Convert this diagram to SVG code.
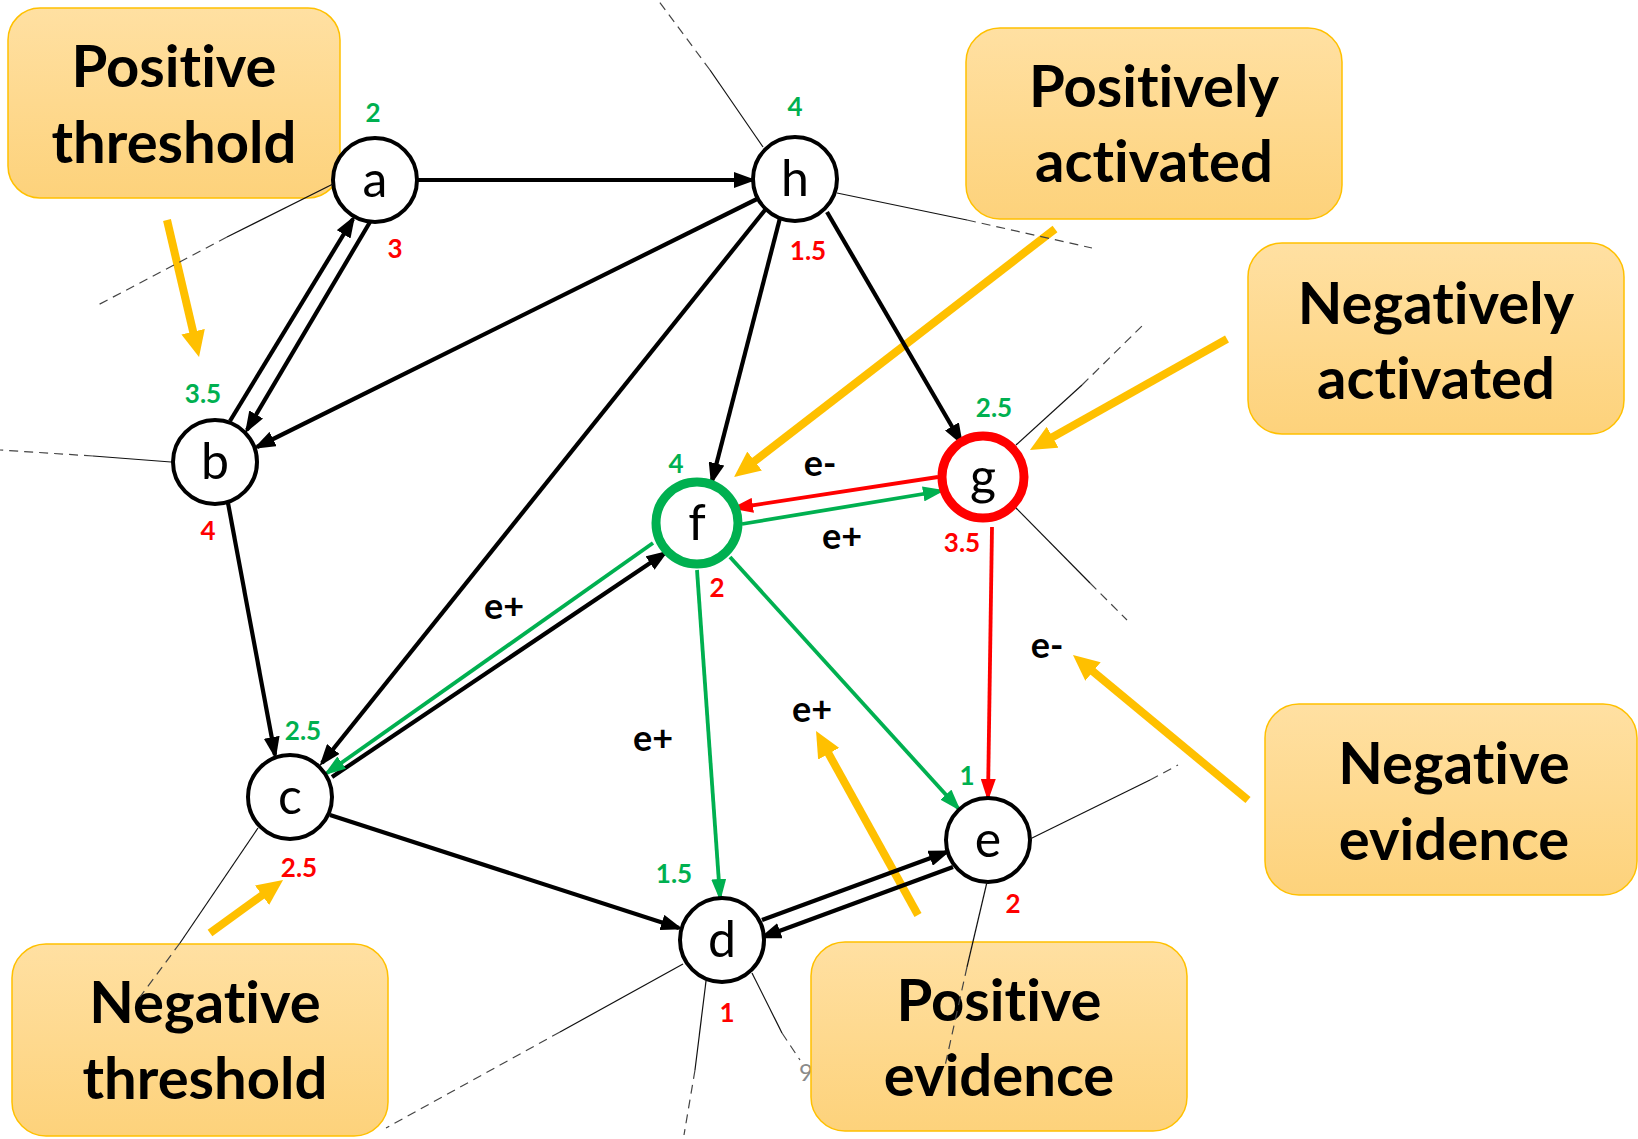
<svg xmlns="http://www.w3.org/2000/svg" width="1638" height="1139" viewBox="0 0 1638 1139">
  <defs>
    <linearGradient id="boxFill" x1="0" y1="0" x2="0" y2="1">
      <stop offset="0" stop-color="#FFE0A2"/>
      <stop offset="1" stop-color="#FDD27B"/>
    </linearGradient>
    <marker id="arrBlack" markerUnits="userSpaceOnUse" markerWidth="22" markerHeight="16" refX="18" refY="8" orient="auto">
      <path d="M0,0 L22,8 L0,16 z" fill="#000"/>
    </marker>
    <marker id="arrGreen" markerUnits="userSpaceOnUse" markerWidth="22" markerHeight="15" refX="18" refY="7.5" orient="auto">
      <path d="M0,0 L22,7.5 L0,15 z" fill="#00B050"/>
    </marker>
    <marker id="arrRed" markerUnits="userSpaceOnUse" markerWidth="22" markerHeight="15" refX="18" refY="7.5" orient="auto">
      <path d="M0,0 L22,7.5 L0,15 z" fill="#FF0000"/>
    </marker>
    <marker id="arrYellow" markerUnits="userSpaceOnUse" markerWidth="26" markerHeight="24" refX="10" refY="12" orient="auto">
      <path d="M0,0 L26,12 L0,24 z" fill="#FFC000"/>
    </marker>
  </defs>
  <style>
    text { font-variant-ligatures: none; }
    .box { fill: url(#boxFill); stroke: #FFC000; stroke-width: 1.5; }
    .boxText { font-family: Lato, "Open Sans", sans-serif; font-weight: bold; font-size: 58px; fill: #000; text-anchor: middle; }
    .pointer { stroke: #FFC000; stroke-width: 8; fill: none; marker-end: url(#arrYellow); }
    .edge { stroke: #000; stroke-width: 4.2; fill: none; marker-end: url(#arrBlack); }
    .edgeG { stroke: #00B050; stroke-width: 3.8; fill: none; marker-end: url(#arrGreen); }
    .edgeR { stroke: #FF0000; stroke-width: 3.8; fill: none; marker-end: url(#arrRed); }
    .node circle { fill: #fff; stroke: #000; stroke-width: 4; }
    .node .letter { font-family: Lato, "Open Sans", sans-serif; font-size: 50px; fill: #000; text-anchor: middle; }
    #node-f circle { stroke: #00B050; stroke-width: 9; }
    #node-g circle { stroke: #FF0000; stroke-width: 9; }
    .node .pos { font-family: Lato, "Open Sans", sans-serif; font-weight: bold; font-size: 26px; fill: #00B050; text-anchor: middle; }
    .node .neg { font-family: Lato, "Open Sans", sans-serif; font-weight: bold; font-size: 26px; fill: #FF0000; text-anchor: middle; }
    .elabel { font-family: Lato, "Open Sans", sans-serif; font-weight: bold; font-size: 36px; fill: #000; text-anchor: middle; }
    .ray { stroke: #111; stroke-width: 1.2; fill: none; }
    .rayDash { stroke: #444; stroke-width: 1.2; fill: none; stroke-dasharray: 9 6; }
  </style>

  <rect width="1638" height="1139" fill="#fff"/>

  <!-- stray grey glyph partly hidden behind the evidence box -->
  <text x="806" y="1081" font-family="Lato, sans-serif" font-size="24" fill="#8a8a8a" text-anchor="middle">9</text>

  <!-- callout boxes -->
  <g id="callout-positive-threshold">
    <rect class="box" x="8" y="8" width="332" height="190" rx="32"/>
    <text class="boxText" x="174" y="87">Positive</text>
    <text class="boxText" x="174" y="163">threshold</text>
  </g>
  <g id="callout-positively-activated">
    <rect class="box" x="966" y="28" width="376" height="191" rx="34"/>
    <text class="boxText" x="1154" y="107">Positively</text>
    <text class="boxText" x="1154" y="182">activated</text>
  </g>
  <g id="callout-negatively-activated">
    <rect class="box" x="1248" y="243" width="376" height="191" rx="34"/>
    <text class="boxText" x="1436" y="324">Negatively</text>
    <text class="boxText" x="1436" y="399">activated</text>
  </g>
  <g id="callout-negative-evidence">
    <rect class="box" x="1265" y="704" width="372" height="191" rx="34"/>
    <text class="boxText" x="1454" y="784">Negative</text>
    <text class="boxText" x="1454" y="860">evidence</text>
  </g>
  <g id="callout-positive-evidence">
    <rect class="box" x="811" y="942" width="376" height="189" rx="34"/>
    <text class="boxText" x="999" y="1021">Positive</text>
    <text class="boxText" x="999" y="1096">evidence</text>
  </g>
  <g id="callout-negative-threshold">
    <rect class="box" x="12" y="944" width="376" height="192" rx="34"/>
    <text class="boxText" x="205" y="1023">Negative</text>
    <text class="boxText" x="205" y="1099">threshold</text>
  </g>

  <!-- pointers from callouts -->
  <g id="pointers">
    <line class="pointer" x1="167" y1="220" x2="195.4" y2="341.4"/>
    <line class="pointer" x1="1055" y1="229" x2="746.7" y2="467.2"/>
    <line class="pointer" x1="1227" y1="339" x2="1043.9" y2="442.1"/>
    <line class="pointer" x1="1248" y1="800" x2="1085.3" y2="665.2"/>
    <line class="pointer" x1="918" y1="915" x2="823.8" y2="745"/>
    <line class="pointer" x1="210" y1="933" x2="270.1" y2="889.4"/>
  </g>

  <!-- connectors -->
  <g id="connectors">
    <line class="edge" x1="417" y1="180" x2="752" y2="180"/>
    <line class="edge" x1="230" y1="421" x2="353" y2="219"/>
    <line class="edge" x1="370" y1="222" x2="247" y2="430"/>
    <line class="edge" x1="757" y1="199" x2="257" y2="447"/>
    <line class="edge" x1="765" y1="210" x2="322" y2="763"/>
    <line class="edge" x1="780" y1="218" x2="712" y2="481"/>
    <line class="edge" x1="827" y1="212" x2="961" y2="442"/>
    <line class="edge" x1="228" y1="503" x2="275" y2="755"/>
    <line class="edge" x1="332" y1="777" x2="665" y2="553"/>
    <line class="edge" x1="330" y1="815" x2="679" y2="928"/>
    <line class="edge" x1="762" y1="920" x2="947" y2="852"/>
    <line class="edge" x1="953" y1="867" x2="763" y2="937"/>
    <line class="edgeG" x1="653" y1="543" x2="327" y2="773"/>
    <line class="edgeG" x1="697" y1="570" x2="720" y2="897"/>
    <line class="edgeG" x1="730" y1="557" x2="958" y2="808"/>
    <line class="edgeG" x1="742" y1="524" x2="941" y2="491"/>
    <line class="edgeR" x1="938" y1="477" x2="735" y2="508"/>
    <line class="edgeR" x1="992" y1="527" x2="988" y2="797"/>
  </g>

  <!-- edge labels -->
  <g id="edge-labels">
    <text class="elabel" x="820" y="476">e-</text>
    <text class="elabel" x="842" y="549">e+</text>
    <text class="elabel" x="504" y="619">e+</text>
    <text class="elabel" x="653" y="751">e+</text>
    <text class="elabel" x="812" y="722">e+</text>
    <text class="elabel" x="1047" y="658">e-</text>
  </g>

  <!-- nodes -->
  <g id="node-a" class="node">
    <circle cx="375" cy="180" r="42"/>
    <text class="letter" x="375" y="197">a</text>
    <text class="pos" x="373" y="122">2</text>
    <text class="neg" x="395" y="258">3</text>
  </g>
  <g id="node-h" class="node">
    <circle cx="795" cy="179" r="42"/>
    <text class="letter" x="795" y="196">h</text>
    <text class="pos" x="795" y="116">4</text>
    <text class="neg" x="808" y="260">1.5</text>
  </g>
  <g id="node-b" class="node">
    <circle cx="215" cy="462" r="42"/>
    <text class="letter" x="215" y="479">b</text>
    <text class="pos" x="203" y="403">3.5</text>
    <text class="neg" x="208" y="540">4</text>
  </g>
  <g id="node-c" class="node">
    <circle cx="290" cy="797" r="42"/>
    <text class="letter" x="290" y="814">c</text>
    <text class="pos" x="303" y="740">2.5</text>
    <text class="neg" x="299" y="877">2.5</text>
  </g>
  <g id="node-f" class="node">
    <circle cx="697" cy="523" r="41"/>
    <text class="letter" x="697" y="540">f</text>
    <text class="pos" x="676" y="473">4</text>
    <text class="neg" x="717" y="597">2</text>
  </g>
  <g id="node-g" class="node">
    <circle cx="983" cy="477" r="41"/>
    <text class="letter" x="983" y="494">g</text>
    <text class="pos" x="994" y="417">2.5</text>
    <text class="neg" x="962" y="552">3.5</text>
  </g>
  <g id="node-e" class="node">
    <circle cx="988" cy="840" r="42"/>
    <text class="letter" x="988" y="857">e</text>
    <text class="pos" x="967" y="785">1</text>
    <text class="neg" x="1013" y="913">2</text>
  </g>
  <g id="node-d" class="node">
    <circle cx="722" cy="940" r="42"/>
    <text class="letter" x="722" y="957">d</text>
    <text class="pos" x="674" y="883">1.5</text>
    <text class="neg" x="727" y="1022">1</text>
  </g>

  <!-- thin guide rays leaving the nodes: solid near the node, dashed further out -->
  <g id="rays">
    <line class="ray" x1="333" y1="184" x2="227" y2="237"/>
    <line class="rayDash" x1="227" y1="237" x2="98" y2="305"/>
    <line class="ray" x1="763" y1="147" x2="710" y2="70"/>
    <line class="rayDash" x1="710" y1="70" x2="658" y2="0"/>
    <line class="ray" x1="837" y1="193" x2="967" y2="220"/>
    <line class="rayDash" x1="967" y1="220" x2="1092" y2="248"/>
    <line class="ray" x1="171" y1="462" x2="93" y2="456"/>
    <line class="rayDash" x1="93" y1="456" x2="0" y2="450"/>
    <line class="ray" x1="258" y1="828" x2="180" y2="943"/>
    <line class="rayDash" x1="180" y1="943" x2="140" y2="997"/>
    <line class="ray" x1="1016" y1="445" x2="1082" y2="385"/>
    <line class="rayDash" x1="1082" y1="385" x2="1145" y2="323"/>
    <line class="ray" x1="1016" y1="508" x2="1090" y2="583"/>
    <line class="rayDash" x1="1090" y1="583" x2="1127" y2="620"/>
    <line class="ray" x1="1030" y1="839" x2="1150" y2="780"/>
    <line class="rayDash" x1="1150" y1="780" x2="1178" y2="765"/>
    <line class="ray" x1="987" y1="882" x2="967" y2="967"/>
    <line class="rayDash" x1="967" y1="967" x2="945" y2="1066"/>
    <line class="ray" x1="683" y1="964" x2="560" y2="1032"/>
    <line class="rayDash" x1="560" y1="1032" x2="386" y2="1128"/>
    <line class="ray" x1="706" y1="981" x2="695" y2="1070"/>
    <line class="rayDash" x1="695" y1="1070" x2="684" y2="1135"/>
    <line class="ray" x1="752" y1="973" x2="782" y2="1033"/>
    <line class="rayDash" x1="782" y1="1033" x2="800" y2="1060"/>
  </g>
</svg>
